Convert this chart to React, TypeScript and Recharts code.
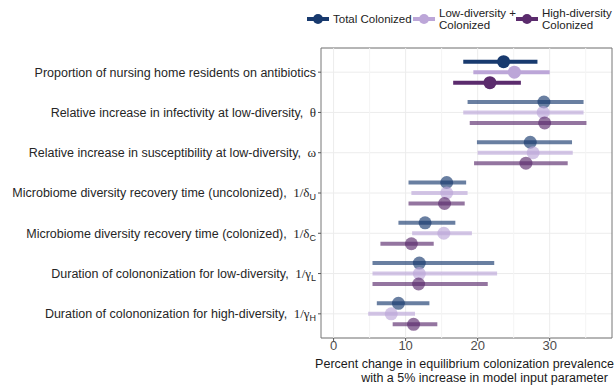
import { ScatterChart, Scatter, XAxis, YAxis, CartesianGrid, ErrorBar, ReferenceLine, ReferenceArea } from 'recharts';

const categories = [
  'Proportion of nursing home residents on antibiotics',
  'Relative increase in infectivity at low-diversity,',
  'Relative increase in susceptibility at low-diversity,',
  'Microbiome diversity recovery time (uncolonized),',
  'Microbiome diversity recovery time (colonized),',
  'Duration of colononization for low-diversity,',
  'Duration of colononization for high-diversity,',
];
const symbols = ['', 'θ', 'ω', '1/δ', '1/δ', '1/γ', '1/γ'];
const subscripts = ['', '', '', 'U', 'C', 'L', 'H'];

const xTicks = [0, 10, 20, 30];
const xMinorTicks = [5, 15, 25, 35];

// percent change: point estimate and range, per parameter (top to bottom)
const totalMid = [23.6, 29.2, 27.3, 15.7, 12.7, 11.9, 9.0];
const totalLow = [18.0, 18.6, 19.9, 10.4, 9.0, 5.4, 6.0];
const totalHigh = [28.3, 34.7, 33.1, 18.4, 16.9, 22.3, 13.3];

const lowDivMid = [25.1, 29.1, 27.7, 15.7, 15.3, 11.9, 8.0];
const lowDivLow = [19.4, 18.0, 20.0, 10.8, 10.9, 5.4, 4.8];
const lowDivHigh = [30.0, 34.7, 33.2, 18.6, 19.2, 22.7, 11.3];

const highDivMid = [21.7, 29.3, 26.7, 15.4, 10.8, 11.8, 11.1];
const highDivLow = [16.6, 18.9, 19.5, 10.4, 6.5, 5.4, 8.2];
const highDivHigh = [26.0, 35.1, 32.5, 18.2, 13.9, 21.4, 14.4];

const series = [
  { name: 'Total Colonized', rgb: '24,58,110', offset: -0.26, mid: totalMid, lo: totalLow, hi: totalHigh },
  { name: 'Low-diversity +\nColonized', rgb: '188,166,216', offset: 0, mid: lowDivMid, lo: lowDivLow, hi: lowDivHigh },
  { name: 'High-diversity\nColonized', rgb: '91,43,109', offset: 0.26, mid: highDivMid, lo: highDivLow, hi: highDivHigh },
];

const highlightRow = 0;
const FONT = "'Liberation Sans', Arial, sans-serif";
const legendLeft = [307, 413, 516];

function buildPoints(s: typeof series[number], highlighted: boolean) {
  return s.mid
    .map((m, i) => ({ x: m, y: i + s.offset, err: [m - s.lo[i], s.hi[i] - m], row: i }))
    .filter((p) => (p.row === highlightRow) === highlighted);
}

const CategoryTick = (props: any) => {
  const { x, y, payload } = props;
  const i = Math.round(payload.value);
  return (
    <text x={x} y={y} textAnchor="end" fill="#262626" fontSize={12.5} fontFamily={FONT} dy="0.35em">
      <tspan>{categories[i]}</tspan>
      {symbols[i] && (
        <tspan fontFamily="'Liberation Serif', serif" fontSize={13}>{'\u2002' + symbols[i]}</tspan>
      )}
      {subscripts[i] && (
        <tspan fontSize={9} dy={3}>{subscripts[i]}</tspan>
      )}
    </text>
  );
};

const XTitle = (props: any) => {
  const vb = props.viewBox;
  const cx = vb.x + vb.width / 2;
  return (
    <g fontFamily={FONT} fontSize={12.5} fill="#1a1a1a">
      <text x={cx - 2} y={vb.y + 30} textAnchor="middle">Percent change in equilibrium colonization prevalence</text>
      <text x={cx + 18} y={vb.y + 44} textAnchor="middle">with a 5% increase in model input parameter</text>
    </g>
  );
};

const LegendKey = ({ rgb }: { rgb: string }) => (
  <svg width={22} height={14} style={{ flex: 'none' }}>
    <line x1={0} y1={7} x2={22} y2={7} stroke={`rgb(${rgb})`} strokeWidth={4} />
    <circle cx={11} cy={7} r={5} fill={`rgb(${rgb})`} />
  </svg>
);

export default function App() {
  return (
    <div style={{ position: 'absolute', left: 0, top: 0, width: 616, height: 385, background: '#fff', fontFamily: FONT, overflow: 'hidden' }}>
      {series.map((s, k) => (
        <div
          key={s.name}
          style={{ position: 'absolute', top: 5, left: legendLeft[k], height: 28, display: 'flex', alignItems: 'center', fontSize: 11.5, color: '#222', lineHeight: '12px' }}
        >
          <LegendKey rgb={s.rgb} />
          <div style={{ marginLeft: 4, whiteSpace: 'pre' }}>{s.name}</div>
        </div>
      ))}
      <ScatterChart width={616} height={385} margin={{ top: 48, right: 4, bottom: 0, left: 0 }}>
        <CartesianGrid vertical={false} stroke="#ececec" />
        {xMinorTicks.map((t) => (
          <ReferenceLine key={'m' + t} x={t} stroke="#f4f4f4" />
        ))}
        {xTicks.map((t) => (
          <ReferenceLine key={'M' + t} x={t} stroke="#ececec" />
        ))}
        <XAxis
          type="number"
          dataKey="x"
          domain={[-1.75, 38.65]}
          ticks={xTicks}
          allowDataOverflow
          height={47}
          axisLine={false}
          tickSize={3}
          tickMargin={0}
          tickLine={{ stroke: '#555' }}
          tick={{ fill: '#4d4d4d', fontSize: 13, fontFamily: FONT }}
          label={{ content: XTitle }}
        />
        <YAxis
          type="number"
          dataKey="y"
          domain={[-0.6, 6.6]}
          reversed
          ticks={categories.map((_, i) => i)}
          allowDataOverflow
          width={321}
          axisLine={false}
          tickSize={3}
          tickMargin={2}
          tickLine={{ stroke: '#555' }}
          tick={<CategoryTick />}
        />
        <ReferenceArea x1={-1.75} x2={38.65} y1={-0.6} y2={6.6} fill="none" stroke="#777" strokeWidth={1} />
        {series.flatMap((s) => {
          const faded = `rgba(${s.rgb},0.65)`;
          const solid = `rgb(${s.rgb})`;
          return [
            <Scatter
              key={s.name + '-rest'}
              data={buildPoints(s, false)}
              isAnimationActive={false}
              shape={(p: any) => <circle cx={p.cx} cy={p.cy} r={6.5} fill={faded} />}
            >
              <ErrorBar dataKey="err" direction="x" width={0} stroke={faded} strokeWidth={4} />
            </Scatter>,
            <Scatter
              key={s.name + '-top'}
              data={buildPoints(s, true)}
              isAnimationActive={false}
              shape={(p: any) => <circle cx={p.cx} cy={p.cy} r={6.5} fill={solid} />}
            >
              <ErrorBar dataKey="err" direction="x" width={0} stroke={solid} strokeWidth={4} />
            </Scatter>,
          ];
        })}
      </ScatterChart>
    </div>
  );
}
